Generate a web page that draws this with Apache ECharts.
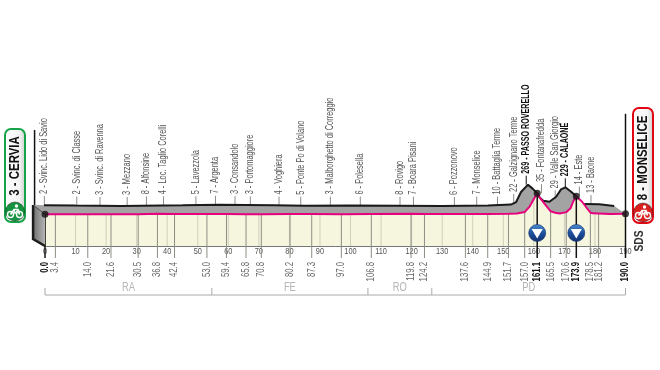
<!DOCTYPE html>
<html>
<head>
<meta charset="utf-8">
<style>html,body{margin:0;padding:0;background:#fff}#main{width:660px;height:370px}</style>
<script src="https://cdn.jsdelivr.net/npm/echarts@6/dist/echarts.min.js"></script>
</head>
<body>
<div id="main"></div>
<script>
var roadKm = [0, 3.4, 14, 21.6, 30.5, 36.8, 42.4, 53, 59.4, 65.8, 70.8, 80.2, 87.3, 97, 106.8, 119.8, 124.2, 137.6, 144.9, 151.7, 154.5, 157, 158.6, 159.8, 161.1, 161.9, 163.8, 165.5, 167, 168.5, 170.6, 172, 173, 173.9, 175.8, 177.4, 178.5, 179.2, 181.2, 185, 190];
var roadAlt = [3, 2, 2, 3, 3, 8, 4, 5, 7, 3, 3, 4, 5, 3, 6, 8, 7, 6, 7, 10, 12, 30, 98, 183, 269, 217, 120, 40, 22, 12, 29, 78, 174, 229, 161, 78, 25, 14, 13, 6, 8];
var ridgeKm = [-3.9, 10, 25, 45, 57, 75, 85, 100, 115, 130, 145, 152.5, 154.2, 155.8, 158.1, 159.6, 161.1, 161.8, 163.1, 165.1, 167.3, 168.9, 170.3, 172.2, 173.9, 175, 176.5, 181.4, 186.3];
var ridgeAlt = [119, 112, 107, 115, 122, 115, 110, 112, 110, 107, 112, 125, 157, 284, 377, 327, 269, 217, 174, 161, 224, 318, 344, 288, 229, null, 132, 128, 107];
var faceKm = [-3.9, 0, 0, -3.9];
var faceAlt = [119, 3, -400, -311];

var kmTicks = [0, 10, 20, 30, 40, 50, 60, 70, 80, 90, 100, 110, 120, 130, 140, 150, 160, 170, 180, 190];
var passKm = ['0.0', '3.4', '14.0', '21.6', '30.5', '36.8', '42.4', '53.0', '59.4', '65.8', '70.8', '80.2', '87.3', '97.0', '106.8', '119.8', '124.2', '137.6', '144.9', '151.7', '157.0', '161.1', '165.5', '170.6', '173.9', '178.5', '181.2', '190.0'];
var boldKm = ['0.0', '161.1', '173.9', '190.0'];

var townKm = [3.4, 14, 21.6, 30.5, 36.8, 42.4, 53, 59.4, 65.8, 70.8, 80.2, 87.3, 97, 106.8, 119.8, 124.2, 137.6, 144.9, 151.7, 157, 161.1, 166.1, 170.6, 173.9, 178.5, 182.3];
var townRidge = [119, 112, 107, 107, 115, 115, 115, 122, 118, 115, 112, 110, 112, 112, 110, 110, 107, 112, 112, 145, 377, 270, 190, 344, 240, 132];
var townName = ['2 - Svinc. Lido di Savio', '2 - Svinc. di Classe', '3 - Svinc. di Ravenna', '3 - Mezzano', '8 - Alfonsine', '4 - Loc. Taglio Corelli', '5 - Lavezzola', '7 - Argenta', '3 - Consandolo', '3 - Portomaggiore', '4 - Voghiera', '5 - Ponte Po di Volano', '3 - Malborghetto di Correggio', '6 - Polesella', '8 - Rovigo', '7 - Boara Pisani', '6 - Pozzonovo', '7 - Monselice', '10 - Battaglia Terme', '22 - Galzignano Terme', '269 - PASSO ROVERELLO', '35 - Fontanafredda', '29 - Valle San Giorgio', '229 - CALAONE', '14 - Este', '13 - Baone'];
var climbNames = ['269 - PASSO ROVERELLO', '229 - CALAONE'];

var dotKm = [0, 161.1, 173.9, 190];
var dotAlt = [3, 269, 229, 8];
var gpmKm = [161.1, 173.9];

var regionEdges = [0, 54.6, 105.7, 126.6, 190];
var regionNames = ['RA', 'FE', 'RO', 'PD'];

// no condensed face on the box, so the Liberation text is squeezed along its run
var SANS = '"Liberation Sans", sans-serif';
var SKEW_KM = 3.6;
var BASE = -400;

function zip(xs, ys) {
    return xs.map(function (x, i) { return [x, ys[i]]; });
}

function roadAt(km) {
    for (var i = 1; i < roadKm.length; i++) {
        if (km <= roadKm[i]) {
            var t = (km - roadKm[i - 1]) / (roadKm[i] - roadKm[i - 1]);
            return roadAlt[i - 1] + t * (roadAlt[i] - roadAlt[i - 1]);
        }
    }
    return roadAlt[roadAlt.length - 1];
}

function rotText(x, y, text, size, color, weight, align, squeeze) {
    return {
        type: 'text', x: x, y: y, rotation: Math.PI / 2, scaleX: squeeze, silent: true,
        style: {
            text: text, fill: color, font: weight + ' ' + size + 'px ' + SANS,
            textAlign: align, textVerticalAlign: 'middle'
        }
    };
}

function flatText(x, y, text, size, color, squeeze) {
    return {
        type: 'text', x: x, y: y, scaleX: squeeze, silent: true,
        style: { text: text, fill: color, font: size + 'px ' + SANS, textAlign: 'center', textVerticalAlign: 'middle' }
    };
}

function seg(x1, y1, x2, y2, color, width) {
    return { type: 'line', silent: true, shape: { x1: x1, y1: y1, x2: x2, y2: y2 }, style: { stroke: color, lineWidth: width } };
}

function cyclist(cx, cy) {
    return {
        type: 'group', x: cx, y: cy, silent: true, children: [
            { type: 'circle', shape: { cx: -4.5, cy: 3, r: 3 }, style: { fill: 'none', stroke: '#fff', lineWidth: 1.4 } },
            { type: 'circle', shape: { cx: 4.5, cy: 3, r: 3 }, style: { fill: 'none', stroke: '#fff', lineWidth: 1.4 } },
            { type: 'polyline', shape: { points: [[-4.5, 3], [-1, -2], [3, -2], [4.5, 3]] }, style: { fill: 'none', stroke: '#fff', lineWidth: 1.6 } },
            { type: 'polyline', shape: { points: [[-1, -2], [0, 2], [3, -2]] }, style: { fill: 'none', stroke: '#fff', lineWidth: 1.2 } },
            { type: 'circle', shape: { cx: 1.5, cy: -5.5, r: 1.7 }, style: { fill: '#fff' } }
        ]
    };
}

function badge(x, y, w, h, border, circle, label, textY) {
    return [
        {
            type: 'rect', shape: { x: x, y: y, width: w, height: h, r: 6 },
            style: {
                stroke: border, lineWidth: 2,
                fill: { type: 'linear', x: 0, y: 0, x2: 1, y2: 0, colorStops: [{ offset: 0, color: '#fff' }, { offset: 0.7, color: '#f4f4f4' }, { offset: 1, color: '#c9c9c9' }] }
            }
        },
        { type: 'circle', shape: { cx: x + w / 2, cy: y + h - 10.5, r: 9.5 }, style: { fill: circle, stroke: '#222', lineWidth: 0.5 } },
        cyclist(x + w / 2, y + h - 10.5),
        {
            type: 'text', x: x + w / 2, y: textY, rotation: Math.PI / 2, scaleX: 0.79,
            style: { text: label, fill: '#111', font: 'bold 14.5px ' + SANS, textAlign: 'center', textVerticalAlign: 'middle' }
        }
    ];
}

var chart = echarts.init(document.getElementById('main'));
chart.setOption({
    animation: false,
    grid: { left: 45, right: 34.5, top: 100, bottom: 124 },
    xAxis: {
        type: 'value', min: 0, max: 190, interval: 10,
        axisLine: { show: true, onZero: false, lineStyle: { color: '#777', width: 1 } },
        axisTick: { show: false },
        splitLine: { show: false },
        axisLabel: { show: false }
    },
    yAxis: { type: 'value', min: BASE, max: 1450, show: false, splitLine: { show: false } },
    graphic: badge(5, 129, 20, 93, '#16a34a', '#16933f', '3 - CERVIA', 166)
        .concat(badge(633, 108, 20, 115, '#e30613', '#d8201f', '8 - MONSELICE', 158))
        .concat([{
            type: 'text', x: 640, y: 241, rotation: Math.PI / 2, scaleX: 0.85,
            style: { text: 'SDS', fill: '#333', font: 'bold 12px ' + SANS, textAlign: 'center', textVerticalAlign: 'middle' }
        }]),
    series: [
        // yellow ground under the road line
        {
            type: 'line', z: 1, data: zip(roadKm, roadAlt), showSymbol: false, silent: true,
            lineStyle: { width: 0 }, areaStyle: { color: '#f6f6de', origin: 'start', opacity: 1 }
        },
        // 10 km grid with its labels
        {
            type: 'custom', z: 2, silent: true, data: zip(kmTicks, kmTicks),
            renderItem: function (params, api) {
                var km = api.value(0);
                var a = api.coord([km, BASE]), b = api.coord([km, roadAt(km)]);
                return {
                    type: 'group', children: [
                        seg(a[0], a[1], b[0], b[1], '#cfcfbd', 1),
                        flatText(a[0], a[1] + 5.5, String(km), 9.5, '#555', 0.78)
                    ]
                };
            }
        },
        // passage lines and km labels
        {
            type: 'custom', z: 3, silent: true, data: passKm.map(function (k) { return [parseFloat(k), 0]; }),
            renderItem: function (params, api) {
                var km = api.value(0);
                var label = passKm[params.dataIndex];
                var bold = boldKm.indexOf(label) >= 0;
                var a = api.coord([km, BASE]), b = api.coord([km, roadAt(km)]);
                return {
                    type: 'group', children: [
                        seg(a[0], a[1] + 12, b[0], b[1], bold ? '#111' : '#8d8d85', bold ? 1.5 : 1),
                        rotText(a[0], a[1] + 16, label, 10.5, bold ? '#111' : '#666', bold ? 'bold' : 'normal', 'right', 0.74)
                    ]
                };
            }
        },
        // grey wall between road and ridge
        {
            type: 'custom', z: 4, silent: true, data: [[0, 0]],
            renderItem: function (params, api) {
                var pts = [];
                zip(ridgeKm, ridgeAlt).forEach(function (p) { if (p[1] !== null) pts.push(api.coord(p)); });
                for (var i = roadKm.length - 1; i >= 0; i--) pts.push(api.coord([roadKm[i], roadAlt[i]]));
                return {
                    type: 'group', children: [
                        { type: 'polygon', shape: { points: pts }, style: { fill: '#a3a3a3' } },
                        {
                            type: 'polygon', shape: { points: zip(faceKm, faceAlt).map(api.coord) },
                            style: { fill: { type: 'linear', x: 0, y: 0, x2: 1, y2: 0, colorStops: [{ offset: 0, color: '#6f6f6f' }, { offset: 1, color: '#b5b5b5' }] } }
                        },
                        {
                            type: 'polyline', shape: { points: [api.coord([faceKm[0], faceAlt[0]]), api.coord([faceKm[3], faceAlt[3]]), api.coord([faceKm[2], faceAlt[2]])] },
                            style: { fill: 'none', stroke: '#1c1c1c', lineWidth: 2.5 }
                        },
                        {
                            type: 'polyline', shape: { points: [api.coord([faceKm[0], faceAlt[0]]), api.coord([faceKm[1], faceAlt[1]])] },
                            style: { fill: 'none', stroke: '#444', lineWidth: 1 }
                        }
                    ]
                };
            }
        },
        // ridge (black) and road (pink)
        {
            type: 'line', z: 5, data: zip(ridgeKm, ridgeAlt), showSymbol: false, silent: true, clip: false, connectNulls: false,
            lineStyle: { color: '#1a1a1a', width: 2 }
        },
        {
            type: 'line', z: 6, data: zip(roadKm, roadAlt), showSymbol: false, silent: true, clip: false,
            lineStyle: { color: '#e6007e', width: 2 }
        },
        // town ticks and names
        {
            type: 'custom', z: 5, silent: true, data: zip(townKm, townRidge),
            renderItem: function (params, api) {
                var p = api.coord([api.value(0) - SKEW_KM, api.value(1)]);
                var name = townName[params.dataIndex];
                var climb = climbNames.indexOf(name) >= 0;
                return {
                    type: 'group', children: [
                        seg(p[0], p[1], p[0], p[1] - 9, climb ? '#111' : '#8d8d85', 1),
                        rotText(p[0], p[1] - 11, name, 10.5, climb ? '#111' : '#555', climb ? 'bold' : 'normal', 'left', climb ? 0.68 : 0.71)
                    ]
                };
            }
        },
        // start, climb and finish dots
        {
            type: 'scatter', z: 7, data: zip(dotKm, dotAlt), symbol: 'circle', symbolSize: 7, silent: true, clip: false,
            itemStyle: { color: '#111' }
        },
        // KOM markers
        {
            type: 'custom', z: 8, silent: true, data: gpmKm.map(function (k) { return [k, 0]; }),
            renderItem: function (params, api) {
                var p = api.coord([api.value(0), BASE]);
                var cy = p[1] - 13;
                return {
                    type: 'group', x: p[0], y: cy, children: [
                        {
                            type: 'circle', shape: { cx: 0, cy: 0, r: 8.5 },
                            style: {
                                stroke: '#12306e', lineWidth: 0.6,
                                fill: { type: 'linear', x: 0, y: 0, x2: 0, y2: 1, colorStops: [{ offset: 0, color: '#4f8fd0' }, { offset: 0.5, color: '#1c4f9e' }, { offset: 1, color: '#12306e' }] }
                            }
                        },
                        { type: 'polygon', shape: { points: [[-5.5, -4], [5.5, -4], [0, 5.5]] }, style: { fill: '#fff' } }
                    ]
                };
            }
        },
        // tall verticals at the start and finish
        {
            type: 'custom', z: 3, silent: true, data: [[0, 0]],
            renderItem: function (params, api) {
                var l = api.coord([faceKm[0], ridgeAlt[0]]);
                var r = api.coord([190, 8]);
                return {
                    type: 'group', children: [
                        seg(l[0] + 1.5, l[1], l[0] + 1.5, l[1] - 75, '#111', 1.5),
                        seg(r[0], r[1], r[0], r[1] - 100, '#111', 1.5)
                    ]
                };
            }
        },
        // region brackets
        {
            type: 'custom', z: 3, silent: true, data: regionEdges.map(function (k) { return [k, 0]; }),
            renderItem: function (params, api) {
                var i = params.dataIndex;
                var a = api.coord([api.value(0), BASE]);
                var y = a[1] + 49;
                var kids = [seg(a[0], y, a[0], y - 7, '#aaa', 1)];
                if (i < regionNames.length) {
                    var next = api.coord([regionEdges[i + 1], BASE]);
                    kids.push(seg(a[0], y, next[0], y, '#aaa', 1));
                    kids.push(flatText((a[0] + next[0]) / 2, y - 7, regionNames[i], 12, '#b5b5b5', 0.78));
                }
                return { type: 'group', children: kids };
            }
        }
    ]
});
</script>
</body>
</html>
